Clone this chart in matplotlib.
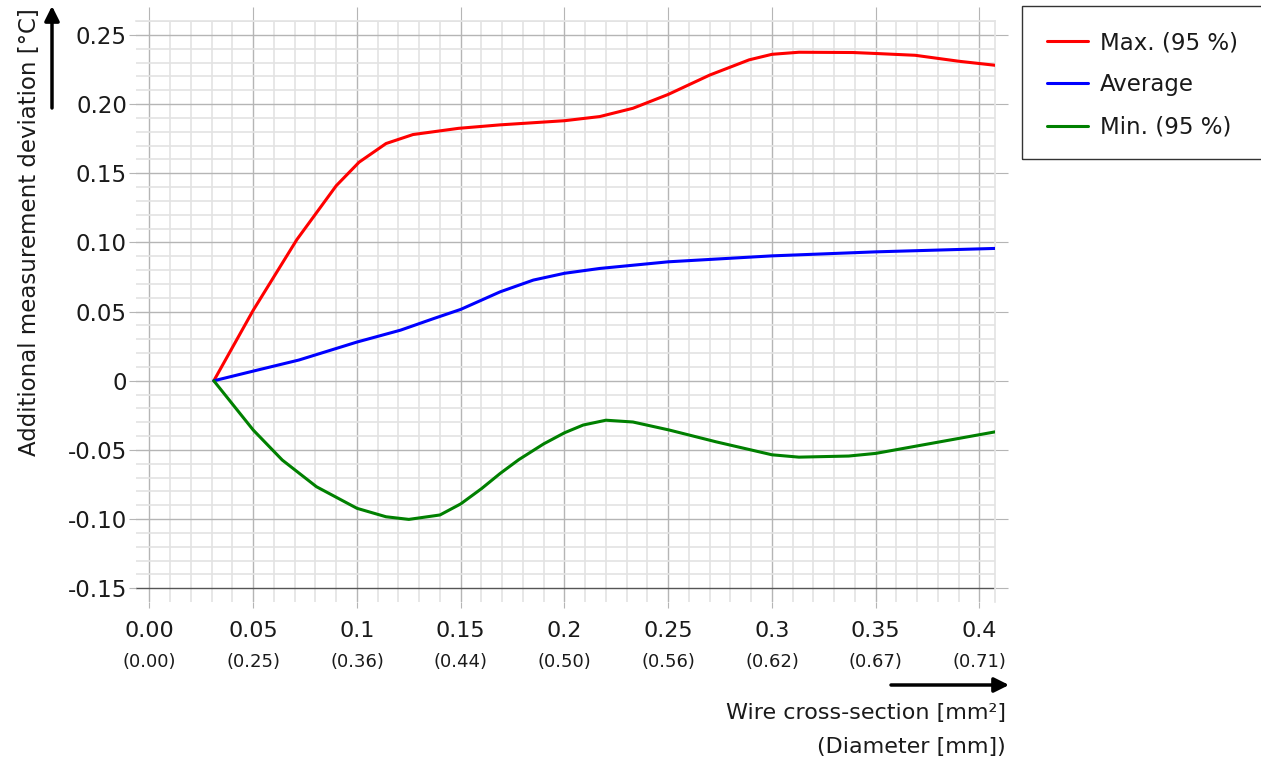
import matplotlib.pyplot as plt
from matplotlib.ticker import FixedLocator, MultipleLocator

# values
max_x = [0.031, 0.05, 0.071, 0.090, 0.101, 0.114, 0.127, 0.149, 0.169, 0.200, 0.217,
         0.233, 0.250, 0.270, 0.289, 0.300, 0.313, 0.339, 0.350, 0.369, 0.390, 0.408]
max_y = [0.0, 0.051, 0.102, 0.141, 0.158, 0.1715, 0.178, 0.1825, 0.185, 0.188, 0.191,
         0.197, 0.207, 0.221, 0.232, 0.236, 0.2375, 0.2373, 0.2366, 0.2353, 0.231, 0.228]

avg_x = [0.031, 0.05, 0.072, 0.100, 0.121, 0.137, 0.150, 0.169, 0.185, 0.200, 0.217,
         0.250, 0.300, 0.350, 0.408]
avg_y = [0.0, 0.007, 0.015, 0.028, 0.0366, 0.045, 0.0516, 0.0643, 0.0728, 0.0777, 0.0812,
         0.086, 0.0903, 0.0932, 0.0957]

min_x = [0.031, 0.05, 0.064, 0.0805, 0.100, 0.114, 0.125, 0.140, 0.150, 0.160, 0.169, 0.178,
         0.190, 0.200, 0.209, 0.220, 0.233, 0.2505, 0.273, 0.300, 0.313, 0.337, 0.350, 0.377, 0.408]
min_y = [0.0, -0.0356, -0.0573, -0.0766, -0.0922, -0.0983, -0.1002, -0.097, -0.089, -0.078,
         -0.067, -0.057, -0.0456, -0.0376, -0.032, -0.0285, -0.0298, -0.0356, -0.0441, -0.0535,
         -0.0552, -0.0544, -0.0525, -0.0452, -0.0368]

x_ticks = [0.0, 0.05, 0.1, 0.15, 0.2, 0.25, 0.3, 0.35, 0.4]
x_labels = ['0.00', '0.05', '0.1', '0.15', '0.2', '0.25', '0.3', '0.35', '0.4']
diam_labels = ['(0.00)', '(0.25)', '(0.36)', '(0.44)', '(0.50)', '(0.56)', '(0.62)', '(0.67)', '(0.71)']
y_ticks = [-0.15, -0.10, -0.05, 0.0, 0.05, 0.10, 0.15, 0.20, 0.25]
y_labels = ['-0.15', '-0.10', '-0.05', '0', '0.05', '0.10', '0.15', '0.20', '0.25']

W, H = 1261, 765
txt = '#1a1a1a'
major_c = '#b5b5b5'
minor_c = '#e3e3e3'

fig = plt.figure(figsize=(W / 100, H / 100), dpi=100)
ax = fig.add_axes([136 / W, 1 - 601.7 / H, (995 - 136) / W, (601.7 - 20.7) / H])

line_kw = dict(lw=2.2, zorder=3, solid_joinstyle='round', solid_capstyle='round')
ax.plot(max_x, max_y, color='#ff0000', label='Max. (95 %)', **line_kw)
ax.plot(avg_x, avg_y, color='#0000ff', label='Average', **line_kw)
ax.plot(min_x, min_y, color='#008000', label='Min. (95 %)', **line_kw)

ax.set_xlim(-0.0065, 0.4075)
ax.set_ylim(-0.1597, 0.2603)

ax.xaxis.set_major_locator(FixedLocator(x_ticks))
ax.yaxis.set_major_locator(FixedLocator(y_ticks))
ax.xaxis.set_minor_locator(MultipleLocator(0.01))
ax.yaxis.set_minor_locator(MultipleLocator(0.01))
ax.set_xticklabels(x_labels)
ax.set_yticklabels(y_labels)

ax.set_axisbelow(True)
ax.grid(which='major', color=major_c, lw=1.0)
ax.grid(which='minor', color=minor_c, lw=1.2)

for s in ['left', 'bottom']:
    ax.spines[s].set_visible(False)
for s in ['top', 'right']:
    ax.spines[s].set_color(minor_c)
    ax.spines[s].set_linewidth(1.2)

ax.tick_params(which='minor', length=0)
ax.tick_params(which='major', direction='out', color=major_c, width=0.8,
               labelcolor=txt, top=True, right=True, labeltop=False, labelright=False)
ax.tick_params(axis='x', which='major', length=4.5, pad=9.5, labelsize=16)
ax.tick_params(axis='y', which='major', length=5, pad=1.5, labelsize=16.5)

for t in ax.xaxis.get_major_ticks():
    t.tick2line.set_markersize(10)
for t in ax.yaxis.get_major_ticks():
    t.tick2line.set_markersize(9.5)
# darker base line at -0.15
t0 = ax.yaxis.get_major_ticks()[0]
t0.gridline.set_color('#555555')
t0.tick1line.set_color('#555555')

# diameter labels below the tick labels
for xv, lab in zip(x_ticks, diam_labels):
    ax.text(xv, -0.1035, lab, transform=ax.get_xaxis_transform(), ha='center', va='center',
            fontsize=13, color=txt)

# axis titles and arrows
fig.text(30 / W, 1 - 8 / H, 'Additional measurement deviation [°C]', rotation=90,
         ha='center', va='top', fontsize=16.5, color=txt)
fig.text(1006 / W, 1 - 713 / H, 'Wire cross-section [mm²]', ha='right', va='center',
         fontsize=16, color=txt)
fig.text(1006 / W, 1 - 747 / H, '(Diameter [mm])', ha='right', va='center',
         fontsize=16, color=txt)

arrow = dict(arrowstyle='-|>', color='black', lw=2.5, mutation_scale=22, shrinkA=0, shrinkB=0)
fig.add_artist(plt.Annotation('', xy=(52 / W, 1 - 6 / H), xytext=(52 / W, 1 - 108 / H),
                              xycoords='figure fraction', textcoords='figure fraction',
                              arrowprops=arrow))
fig.add_artist(plt.Annotation('', xy=(1009 / W, 1 - 685 / H), xytext=(891 / W, 1 - 685 / H),
                              xycoords='figure fraction', textcoords='figure fraction',
                              arrowprops=arrow))

# legend box running off the right edge
fig.add_artist(plt.Rectangle((1021.5 / W, 1 - 159 / H), 0.3, (159 - 6.5) / H,
                             transform=fig.transFigure, fill=False, ec='#333333', lw=1.0))
fig.legend(loc='upper left', bbox_to_anchor=(1047 / W, 1 - 31 / H), frameon=False,
           fontsize=16.5, handlelength=1.8, handletextpad=0.5, labelspacing=0.85,
           borderpad=0, borderaxespad=0, labelcolor=txt)

fig.savefig('out.png', dpi=100)
